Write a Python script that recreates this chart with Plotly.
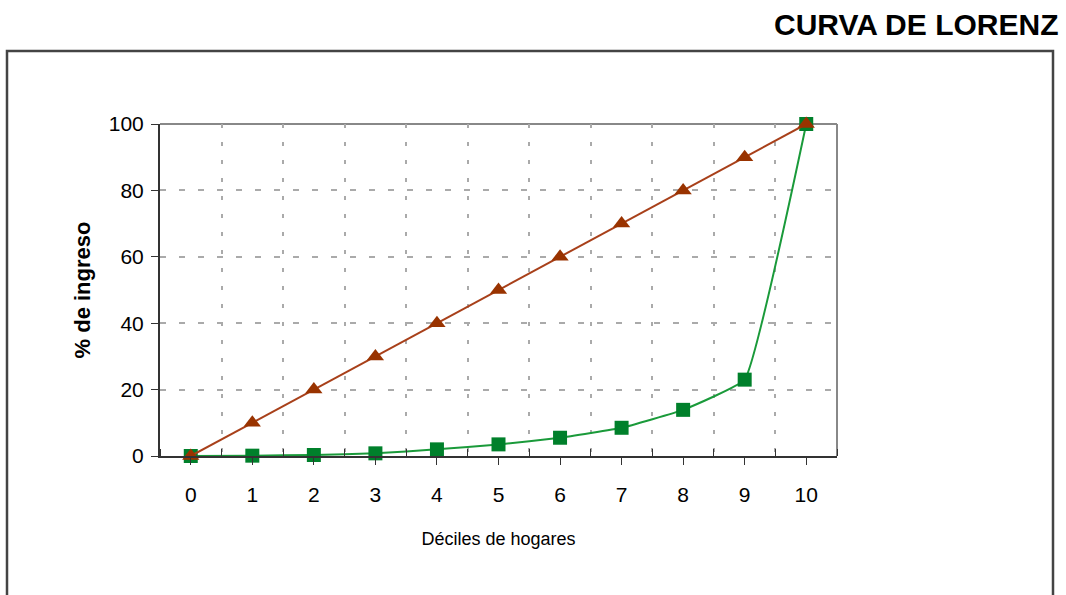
import plotly.graph_objects as go

deciles = [0, 1, 2, 3, 4, 5, 6, 7, 8, 9, 10]
igualdad = [0, 10, 20, 30, 40, 50, 60, 70, 80, 90, 100]
lorenz = [0, 0.1, 0.3, 0.8, 2.0, 3.5, 5.5, 8.5, 13.9, 23, 100]
x_ticks = [0, 1, 2, 3, 4, 5, 6, 7, 8, 9, 10]
y_ticks = [0, 20, 40, 60, 80, 100]

W, H = 1066, 595
L, R, T, B = 160, 837, 124, 456


def px(x):
    return (x - L) / (R - L)


def py(y):
    return (B - y) / (B - T)


fig = go.Figure()
fig.add_trace(go.Scatter(
    x=deciles, y=lorenz, mode="lines+markers",
    line=dict(color="#1a9a3a", width=2, shape="spline", smoothing=0.3),
    marker=dict(symbol="square", size=14, color="#00802b"),
    showlegend=False, cliponaxis=False))
fig.add_trace(go.Scatter(
    x=deciles, y=igualdad, mode="lines+markers",
    line=dict(color="#a8401a", width=2),
    marker=dict(symbol="triangle-up", size=15, color="#993300"),
    showlegend=False, cliponaxis=False))

fig.update_layout(
    width=W, height=H,
    margin=dict(l=L, r=W - R, t=T, b=H - B),
    paper_bgcolor="white", plot_bgcolor="white",
    font=dict(family="Liberation Sans, Arial, sans-serif", color="black"),
    xaxis=dict(
        range=[-0.5, 10.5], tickvals=x_ticks, ticks="outside", ticklen=7,
        tickcolor="#333", tickfont=dict(size=21), ticklabelstandoff=12,
        showgrid=False, zeroline=False, showline=True, linecolor="#333", linewidth=2,
        minor=dict(tick0=0.5, dtick=1, ticks="inside", ticklen=7, tickcolor="#333",
                   showgrid=True, gridcolor="#aaa", griddash="4px,14px", gridwidth=1.5),
        title=dict(text="Déciles de hogares", font=dict(size=18), standoff=27),
    ),
    yaxis=dict(
        range=[0, 100], tickvals=y_ticks, ticks="outside", ticklen=7,
        tickcolor="#333", tickfont=dict(size=21), ticklabelstandoff=3,
        showgrid=True, gridcolor="#aaa", griddash="6px,13px", gridwidth=1.5,
        zeroline=False, showline=True, linecolor="#333", linewidth=2,
        title=dict(text="<b>% de ingreso</b>", font=dict(size=22), standoff=12),
    ),
)

# plot-area top and right borders (gray)
fig.add_shape(type="line", xref="paper", yref="paper", x0=0, x1=1, y0=1, y1=1,
              line=dict(color="#888", width=2), layer="below")
fig.add_shape(type="line", xref="paper", yref="paper", x0=1, x1=1, y0=0, y1=1,
              line=dict(color="#888", width=2), layer="below")

# outer frame
fig.add_shape(type="path", xref="paper", yref="paper",
              path=f"M {px(7)} {py(640)} L {px(7)} {py(51)} L {px(1053)} {py(51)} L {px(1053)} {py(640)}",
              line=dict(color="#444", width=2.5))

fig.add_annotation(text="<b>CURVA DE LORENZ</b>", xref="paper", yref="paper",
                   x=px(1060), y=py(24), xanchor="right", yanchor="middle",
                   showarrow=False, font=dict(size=30, color="black"))

fig.write_html("out.html", config={"displayModeBar": False},
               post_script="document.body.style.margin='0';document.body.style.overflow='hidden';")
